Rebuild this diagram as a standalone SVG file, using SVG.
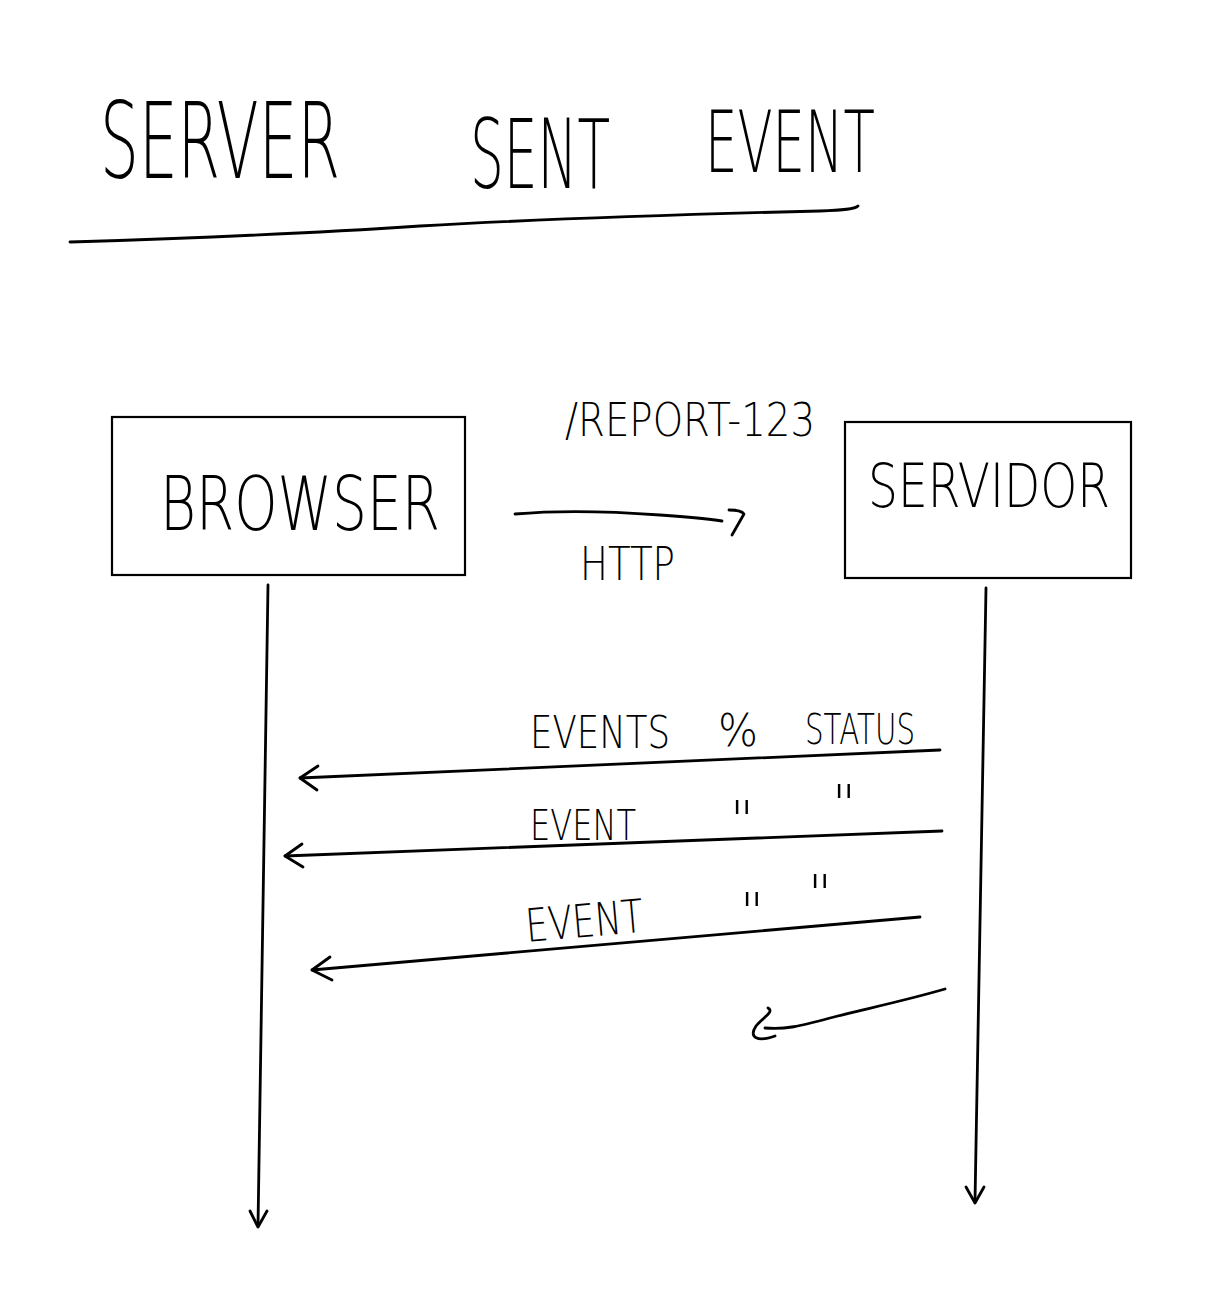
<svg xmlns="http://www.w3.org/2000/svg" width="1208" height="1310" viewBox="0 0 1208 1310">
<style>
.ln{fill:none;stroke:#000;stroke-width:2.8;stroke-linecap:round;stroke-linejoin:round}
.box{fill:#fff;stroke:#000;stroke-width:2.2}
.t{font-family:"DejaVu Sans","Liberation Sans",sans-serif;fill:#000;font-weight:200}
</style>
<rect width="1208" height="1310" fill="#fff"/>
<g id="title">
<text class="t" transform="translate(100 178) scale(0.57 1)" x="0" y="0" font-size="106" textLength="421" lengthAdjust="spacingAndGlyphs">SERVER</text>
<text class="t" transform="translate(470 188) scale(0.556 1)" x="0" y="0" font-size="96" textLength="252" lengthAdjust="spacingAndGlyphs">SENT</text>
<text class="t" transform="translate(705 172) scale(0.6 1)" x="0" y="0" font-size="86" textLength="283" lengthAdjust="spacingAndGlyphs">EVENT</text>
<path class="ln" d="M70 242 C 200 238, 300 234, 420 226 C 560 218, 700 214, 820 211 C 845 210, 855 209, 858 206"/>
</g>
<g id="browser">
<rect class="box" x="112" y="417" width="353" height="158"/>
<text class="t" x="160" y="530" font-size="74" textLength="280" lengthAdjust="spacingAndGlyphs">BROWSER</text>
</g>
<g id="servidor">
<rect class="box" x="845" y="422" width="286" height="156"/>
<text class="t" x="868" y="507" font-size="60" textLength="242" lengthAdjust="spacingAndGlyphs">SERVIDOR</text>
</g>
<g id="labels">
<text class="t" x="565" y="436" font-size="46" textLength="250" lengthAdjust="spacingAndGlyphs">/REPORT-123</text>
<text class="t" x="580" y="580" font-size="46" textLength="95" lengthAdjust="spacingAndGlyphs">HTTP</text>
<text class="t" x="530" y="748" font-size="44" textLength="140" lengthAdjust="spacingAndGlyphs">EVENTS</text>
<text class="t" x="718" y="746" font-size="44" textLength="40" lengthAdjust="spacingAndGlyphs">%</text>
<text class="t" x="805" y="744" font-size="42" textLength="110" lengthAdjust="spacingAndGlyphs">STATUS</text>
<text class="t" x="530" y="840" font-size="42" textLength="106" lengthAdjust="spacingAndGlyphs">EVENT</text>
<text class="t" x="730" y="838" font-size="52">"</text>
<text class="t" x="832" y="822" font-size="52">"</text>
<text class="t" x="527" y="942" font-size="46" textLength="118" lengthAdjust="spacingAndGlyphs" transform="rotate(-5 527 942)">EVENT</text>
<text class="t" x="740" y="930" font-size="52">"</text>
<text class="t" x="808" y="912" font-size="52">"</text>
</g>
<g id="connectors">
<path class="ln" d="M515 514 C 560 510, 620 512, 660 515 C 690 517, 710 519, 722 521"/>
<path class="ln" d="M729 510 C 735 510, 742 511, 744 514 L 732 535"/>
<path class="ln" d="M268 585 L 258 1226"/>
<path class="ln" d="M250 1211 L 258 1227 L 267 1211"/>
<path class="ln" d="M986 588 L 975 1202"/>
<path class="ln" d="M966 1187 L 975 1203 L 984 1187"/>
<path class="ln" d="M940 750 L 300 778"/>
<path class="ln" d="M318 766 L 300 778 L 317 790"/>
<path class="ln" d="M942 831 L 285 856"/>
<path class="ln" d="M302 844 L 285 856 L 303 867"/>
<path class="ln" d="M920 917 L 312 970"/>
<path class="ln" d="M330 957 L 312 970 L 332 980"/>
<path class="ln" d="M945 989 C 900 1002, 860 1010, 830 1018 C 800 1026, 785 1030, 765 1028"/>
<path class="ln" d="M768 1008 C 775 1012, 762 1018, 756 1026 C 748 1038, 758 1042, 775 1036"/>
</g>
</svg>
